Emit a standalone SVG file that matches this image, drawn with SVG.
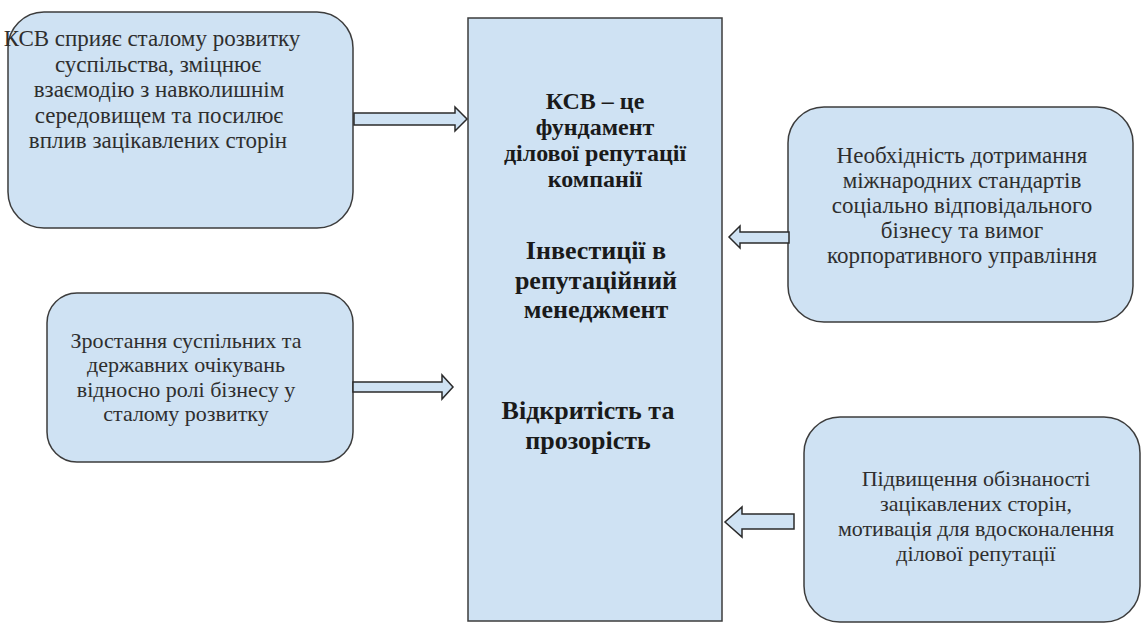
<svg xmlns="http://www.w3.org/2000/svg" width="1145" height="626" viewBox="0 0 1145 626">
<style>
.box{fill:#cfe2f3;stroke:#3c3c3c;stroke-width:1.5}
.arr{fill:#cfe2f3;stroke:#2b2b2b;stroke-width:1.5;stroke-linejoin:miter}
text{font-family:"Liberation Serif","Times New Roman",serif;text-anchor:middle}
.t{font-size:23px;fill:#2e2e2e}
.s{font-size:22px}
.b{font-size:24px;font-weight:bold;fill:#1a1a1a}
.bb{font-size:26px}
</style>
<rect width="1145" height="626" fill="#ffffff"/>
<g id="center">
<rect x="468" y="18" width="254" height="603" class="box"/>
<text class="b" x="595" y="109">КСВ – це</text>
<text class="b" x="595" y="135">фундамент</text>
<text class="b" x="595" y="161">ділової репутації</text>
<text class="b" x="595" y="187">компанії</text>
<text class="b bb" x="596" y="259">Інвестиції в</text>
<text class="b bb" x="596" y="289">репутаційний</text>
<text class="b bb" x="596" y="318">менеджмент</text>
<text class="b bb" x="588" y="419">Відкритість та</text>
<text class="b bb" x="588" y="449">прозорість</text>
</g>
<g id="box1">
<rect x="8" y="12" width="345" height="216" rx="36" class="box"/>
<text class="t" x="152" y="46">КСВ сприяє сталому розвитку</text>
<text class="t" x="158" y="72">суспільства, зміцнює</text>
<text class="t" x="159" y="97">взаємодію з навколишнім</text>
<text class="t" x="159" y="123">середовищем та посилює</text>
<text class="t" x="158" y="148">вплив зацікавлених сторін</text>
</g>
<g id="box2">
<rect x="788" y="107" width="345" height="215" rx="36" class="box"/>
<text class="t" x="962" y="163">Необхідність дотримання</text>
<text class="t" x="962" y="188">міжнародних стандартів</text>
<text class="t" x="962" y="213">соціально відповідального</text>
<text class="t" x="962" y="238">бізнесу та вимог</text>
<text class="t" x="962" y="263">корпоративного управління</text>
</g>
<g id="box3">
<rect x="47" y="293" width="306" height="169" rx="30" class="box"/>
<text class="t s" x="186" y="348">Зростання суспільних та</text>
<text class="t s" x="186" y="372">державних очікувань</text>
<text class="t s" x="186" y="397">відносно ролі бізнесу у</text>
<text class="t s" x="186" y="421">сталому розвитку</text>
</g>
<g id="box4">
<rect x="804" y="417" width="336" height="205" rx="36" class="box"/>
<text class="t s" x="976" y="486">Підвищення обізнаності</text>
<text class="t s" x="976" y="511">зацікавлених сторін,</text>
<text class="t s" x="976" y="536">мотивація для вдосконалення</text>
<text class="t s" x="976" y="561">ділової репутації</text>
</g>
<g id="connectors">
<path class="arr" d="M354 113 H455 V107 L467 119 L455 131 V125 H354 Z"/>
<path class="arr" d="M789 232 H740 V226 L729 237 L740 248 V243 H789 Z"/>
<path class="arr" d="M353 382 H442 V375 L453 387 L442 399 V392 H353 Z"/>
<path class="arr" d="M794 514 H742 V507 L725 522 L742 537 V529 H794 Z"/>
</g>
</svg>
